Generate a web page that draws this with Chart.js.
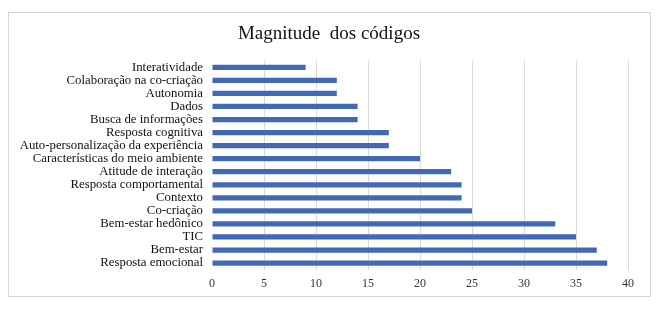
<!DOCTYPE html>
<html lang="pt">
<head>
  <meta charset="UTF-8" />
  <title>Magnitude dos códigos</title>
  <script src="https://cdn.jsdelivr.net/npm/chart.js"></script>
  <style>
    body {
      margin: 0;
      background: #ffffff;
    }
    .frame {
      position: absolute;
      left: 8px;
      top: 12px;
      width: 641px;
      height: 283px;
      border: 1.5px solid #d6d6d6;
    }
    .wrap {
      position: absolute;
      left: 0;
      top: 0;
      width: 664px;
      height: 316px;
    }
  </style>
</head>
<body>
  <div class="frame"></div>
  <div class="wrap">
    <canvas id="codesChart" width="664" height="316"></canvas>
  </div>

  <script>
    const categories = [
      'Interatividade',
      'Colaboração na co-criação',
      'Autonomia',
      'Dados',
      'Busca de informações',
      'Resposta cognitiva',
      'Auto-personalização da experiência',
      'Características do meio ambiente',
      'Atitude de interação',
      'Resposta comportamental',
      'Contexto',
      'Co-criação',
      'Bem-estar hedônico',
      'TIC',
      'Bem-estar',
      'Resposta emocional'
    ];
    const magnitude = [9, 12, 12, 14, 14, 17, 17, 20, 23, 24, 24, 25, 33, 35, 37, 38];
    const xTicks = [0, 5, 10, 15, 20, 25, 30, 35, 40];

    const serif = "'Liberation Serif', 'Times New Roman', serif";

    // nudge the title so it sits over the middle of the frame, like the original
    const titleShift = {
      id: 'titleShift',
      afterLayout(chart) {
        chart.titleBlock.left += 10;
        chart.titleBlock.right += 10;
      }
    };

    const ctx = document.getElementById('codesChart').getContext('2d');
    const codesChart = new Chart(ctx, {
      type: 'bar',
      data: {
        labels: categories,
        datasets: [{
          label: 'Magnitude',
          data: magnitude,
          backgroundColor: '#4169b4',
          borderWidth: 0,
          categoryPercentage: 1,
          barPercentage: 0.4
        }]
      },
      options: {
        indexAxis: 'y',
        responsive: false,
        animation: false,
        layout: {
          padding: { top: 23, right: 36, bottom: 18, left: 10 }
        },
        plugins: {
          legend: { display: false },
          tooltip: { enabled: false },
          title: {
            display: true,
            text: 'Magnitude  dos códigos',
            color: '#111',
            font: { family: serif, size: 19, weight: 'normal' },
            padding: { top: 0, bottom: 15 }
          }
        },
        scales: {
          x: {
            min: 0,
            max: 40,
            afterBuildTicks: scale => {
              scale.ticks = xTicks.map(v => ({ value: v }));
            },
            border: { display: false },
            grid: {
              color: c => c.tick && c.tick.value === 0 ? 'rgba(0,0,0,0)' : '#d9d9d9',
              drawTicks: false
            },
            ticks: {
              color: '#333',
              padding: 7,
              font: { family: serif, size: 12 }
            }
          },
          y: {
            border: { display: false },
            grid: { display: false, drawTicks: false },
            afterFit: scale => { scale.width = 202; },
            ticks: {
              color: '#111',
              padding: 9,
              autoSkip: false,
              font: { family: serif, size: 12.8 }
            }
          }
        }
      },
      plugins: [titleShift]
    });
  </script>
</body>
</html>
